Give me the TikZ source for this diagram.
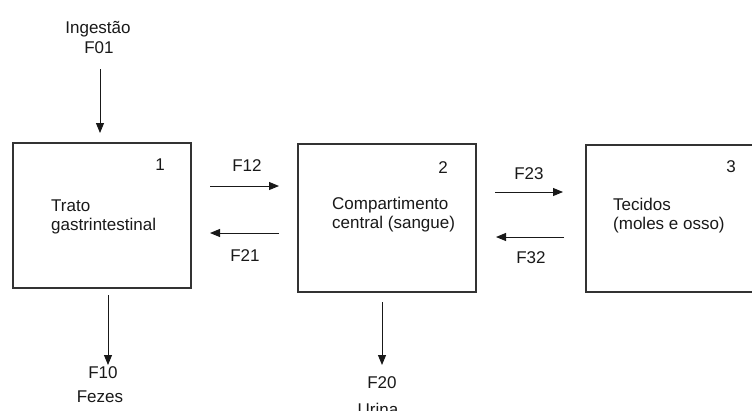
\documentclass[tikz,border=0pt]{standalone}
\usepackage{fontspec}
\setmainfont{Liberation Sans}
\usetikzlibrary{arrows.meta}
\begin{document}
\begin{tikzpicture}[x=1pt,y=-1pt,
  every node/.style={font=\fontsize{17}{18.5}\selectfont, text=black!90, inner sep=0pt},
  comp/.style={draw=black!80, line width=1.2pt, minimum width=178pt, inner sep=0pt},
  lbl/.style={anchor=base},
  txt/.style={anchor=base west, align=left},
  flow/.style={-{Triangle[length=10pt,width=8pt]}, line width=1pt, draw=black!90}]
\clip (0,0) rectangle (752,410);
\fill[white] (0,0) rectangle (752,410);
% compartments
\node[comp, minimum height=145pt] (b1) at (102,215.5) {};
\node[comp, minimum height=148pt] (b2) at (387,218) {};
\node[comp, minimum height=147pt] (b3) at (675,218.5) {};
% numbers
\node[lbl] (n1) at (160,170) {1};
\node[lbl] (n2) at (443,173) {2};
\node[lbl] (n3) at (731,172) {3};
% box texts (base = last line)
\node[txt] (t1) at (51,230) {Trato\\gastrintestinal};
\node[txt] (t2) at (332,228) {Compartimento\\central (sangue)};
\node[txt] (t3) at (613,229) {Tecidos\\(moles e osso)};
% flow labels
\node[lbl] (ing) at (98,33) {Ingestão};
\node[lbl] (f01) at (99,53) {F01};
\node[lbl] (f12) at (247,171) {F12};
\node[lbl] (f21) at (245,261) {F21};
\node[lbl] (f23) at (529,179) {F23};
\node[lbl] (f32) at (531,263) {F32};
\node[lbl] (f10) at (103,378) {F10};
\node[lbl] (fez) at (100,402) {Fezes};
\node[lbl] (f20) at (382,388) {F20};
\node[lbl] (uri) at (378,415) {Urina};
% arrow end points
\coordinate (a01s) at (100,69);  \coordinate (a01e) at (100,133);
\coordinate (a12s) at (210,186); \coordinate (a12e) at (279,186);
\coordinate (a21s) at (279,233); \coordinate (a21e) at (210,233);
\coordinate (a23s) at (495,192); \coordinate (a23e) at (563,192);
\coordinate (a32s) at (564,237); \coordinate (a32e) at (496,237);
\coordinate (a10s) at (108,295); \coordinate (a10e) at (108,365);
\coordinate (a20s) at (382,302); \coordinate (a20e) at (382,365);
\draw[flow] (a01s) -- (a01e);
\draw[flow] (a12s) -- (a12e);
\draw[flow] (a21s) -- (a21e);
\draw[flow] (a23s) -- (a23e);
\draw[flow] (a32s) -- (a32e);
\draw[flow] (a10s) -- (a10e);
\draw[flow] (a20s) -- (a20e);
\end{tikzpicture}
\end{document}
